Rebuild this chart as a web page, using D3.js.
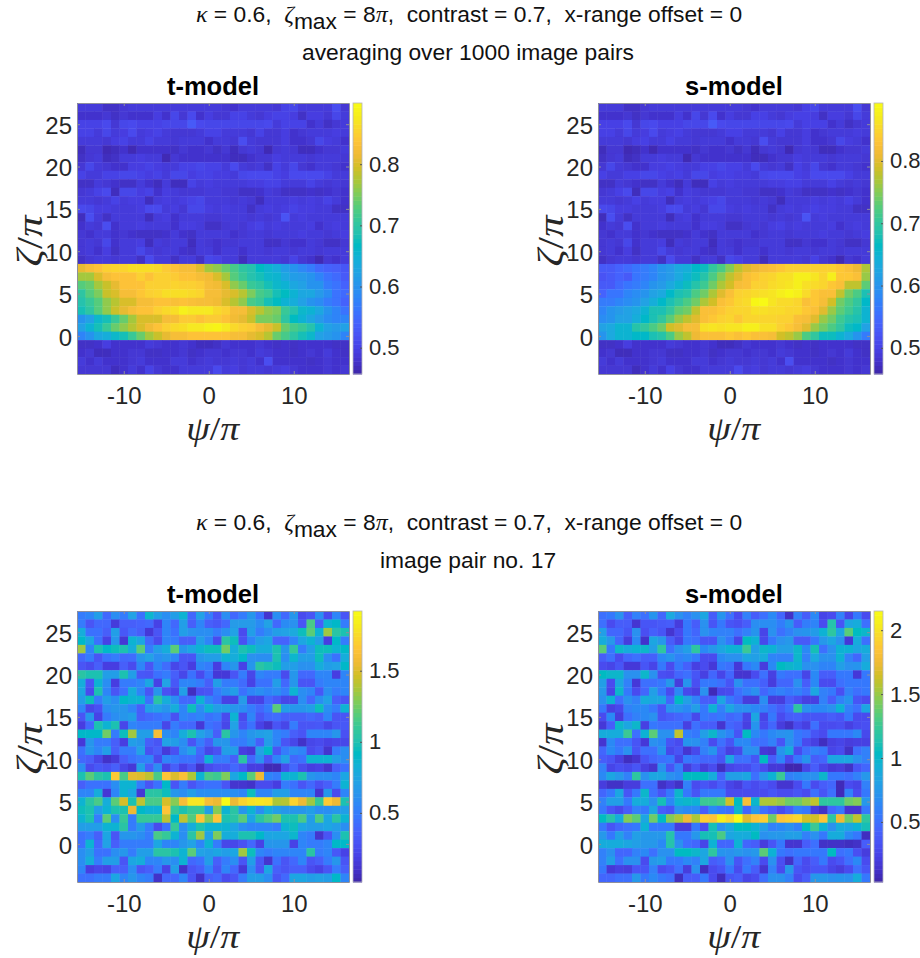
<!DOCTYPE html>
<html>
<head>
<meta charset="utf-8">
<script src="https://cdn.jsdelivr.net/npm/d3@7"></script>
<style>
  body { margin: 0; background: #fff; }
  text { font-family: "Liberation Sans", Arial, sans-serif; }
  .math { font-family: "Liberation Serif", serif; font-style: italic; }
</style>
</head>
<body>
<div id="chart"></div>
<script>
// Axis values
var xTicks = [-10, 0, 10];
var yTicks = [0, 5, 10, 15, 20, 25];
var xCenters = d3.range(-15, 17);
var yCenters = d3.range(27, -5, -1);

// Averaged panels: rows y = 27 ... 9 (same in both models)
var avgHigh = [
[.49,.49,.49,.475,.475,.485,.49,.49,.49,.49,.49,.49,.49,.49,.49,.49,.49,.485,.48,.49,.49,.49,.49,.485,.5,.505,.49,.49,.49,.49,.515,.485],
[.48,.48,.48,.485,.475,.485,.48,.48,.48,.495,.48,.505,.485,.51,.48,.495,.485,.485,.5,.5,.49,.485,.495,.5,.5,.495,.475,.495,.495,.485,.505,.49],
[.5,.5,.5,.51,.485,.505,.51,.5,.5,.5,.505,.505,.505,.53,.51,.505,.505,.505,.505,.505,.505,.505,.51,.49,.5,.5,.5,.48,.49,.475,.485,.49],
[.5,.5,.49,.505,.49,.495,.51,.49,.495,.5,.49,.485,.485,.485,.49,.5,.5,.49,.49,.49,.485,.5,.485,.485,.495,.48,.485,.49,.49,.49,.495,.49],
[.49,.49,.49,.485,.495,.5,.49,.49,.5,.49,.49,.485,.49,.49,.49,.48,.49,.49,.485,.515,.49,.485,.485,.485,.495,.48,.48,.485,.505,.495,.49,.48],
[.47,.485,.485,.465,.47,.48,.465,.48,.48,.48,.48,.475,.485,.48,.48,.485,.475,.485,.47,.485,.49,.485,.465,.485,.49,.485,.47,.47,.48,.485,.485,.49],
[.475,.485,.49,.47,.475,.49,.49,.495,.49,.49,.465,.485,.48,.48,.48,.48,.48,.48,.47,.47,.48,.485,.485,.495,.49,.49,.49,.485,.49,.49,.49,.485],
[.485,.505,.49,.485,.48,.48,.495,.495,.5,.495,.49,.49,.5,.5,.505,.5,.5,.49,.51,.49,.485,.49,.475,.5,.49,.505,.485,.48,.49,.49,.485,.48],
[.5,.49,.49,.5,.5,.505,.505,.5,.495,.5,.49,.505,.505,.495,.5,.5,.495,.495,.49,.505,.51,.51,.51,.5,.495,.51,.51,.51,.51,.5,.49,.49],
[.475,.475,.49,.485,.48,.475,.475,.49,.48,.47,.49,.47,.47,.5,.49,.495,.49,.49,.49,.49,.495,.495,.5,.5,.49,.49,.49,.5,.49,.485,.49,.485],
[.485,.49,.5,.51,.47,.505,.505,.495,.5,.48,.495,.49,.485,.485,.485,.49,.49,.485,.485,.475,.475,.48,.49,.485,.475,.475,.475,.48,.475,.48,.485,.48],
[.49,.49,.485,.49,.5,.49,.495,.495,.47,.49,.495,.49,.495,.5,.505,.49,.49,.49,.485,.49,.485,.47,.49,.49,.49,.495,.49,.495,.49,.5,.49,.48],
[.51,.505,.495,.495,.49,.49,.49,.495,.51,.51,.49,.495,.485,.505,.505,.495,.49,.495,.49,.49,.475,.49,.495,.49,.495,.5,.495,.495,.49,.49,.475,.475],
[.47,.515,.49,.475,.49,.49,.49,.49,.47,.49,.495,.48,.49,.49,.49,.485,.485,.49,.49,.49,.485,.49,.485,.49,.52,.49,.495,.49,.49,.49,.49,.49],
[.48,.49,.485,.515,.48,.49,.49,.495,.49,.49,.49,.48,.495,.495,.49,.475,.475,.485,.49,.485,.495,.5,.49,.495,.49,.49,.49,.495,.48,.49,.495,.49],
[.485,.48,.49,.49,.48,.485,.48,.475,.475,.475,.48,.49,.48,.475,.49,.49,.49,.49,.48,.485,.49,.49,.485,.49,.49,.49,.495,.49,.49,.485,.49,.495],
[.485,.49,.485,.505,.48,.49,.49,.495,.47,.49,.485,.49,.49,.47,.49,.485,.48,.485,.485,.49,.49,.49,.475,.475,.485,.48,.48,.49,.485,.475,.475,.485],
[.485,.49,.48,.495,.475,.49,.49,.505,.49,.485,.49,.49,.48,.475,.49,.49,.48,.49,.49,.48,.49,.49,.485,.49,.49,.485,.49,.49,.485,.49,.49,.49],
[.475,.485,.49,.49,.485,.49,.49,.475,.51,.49,.49,.475,.49,.49,.475,.505,.5,.49,.49,.47,.49,.49,.49,.49,.485,.5,.485,.48,.465,.485,.48,.49]
];
// Averaged panels: rows y = -1 ... -4 (same in both models)
var avgLow = [
[.475,.475,.48,.495,.48,.48,.48,.48,.49,.485,.48,.48,.485,.48,.47,.47,.475,.485,.48,.48,.48,.485,.48,.475,.48,.475,.48,.48,.48,.48,.475,.475],
[.48,.485,.47,.47,.48,.48,.485,.485,.475,.475,.48,.48,.485,.475,.48,.485,.485,.48,.485,.485,.48,.49,.485,.48,.48,.475,.48,.485,.48,.49,.48,.475],
[.49,.48,.49,.48,.48,.48,.485,.49,.48,.48,.48,.49,.49,.48,.485,.49,.485,.485,.49,.485,.49,.48,.515,.48,.48,.48,.48,.475,.48,.485,.48,.48],
[.485,.485,.485,.485,.47,.48,.49,.48,.5,.485,.48,.48,.49,.49,.49,.49,.51,.49,.495,.485,.49,.49,.485,.49,.495,.485,.48,.48,.48,.485,.48,.485]
];
// Averaged panels: rows y = 8 ... 0
var avgBandT = [
[.81,.825,.835,.85,.855,.855,.865,.865,.865,.86,.845,.835,.825,.825,.805,.77,.76,.74,.72,.70,.69,.67,.655,.64,.615,.60,.585,.57,.55,.54,.535,.525],
[.77,.77,.80,.825,.835,.835,.835,.85,.835,.85,.85,.845,.835,.835,.825,.82,.80,.77,.73,.71,.69,.68,.66,.655,.63,.615,.61,.60,.58,.56,.55,.53],
[.73,.74,.77,.79,.81,.835,.835,.835,.85,.85,.85,.855,.85,.85,.845,.825,.82,.80,.76,.74,.71,.70,.68,.66,.65,.63,.62,.60,.60,.57,.56,.54],
[.70,.73,.75,.79,.80,.825,.825,.84,.85,.855,.865,.865,.865,.86,.855,.825,.825,.81,.80,.78,.75,.72,.71,.68,.67,.65,.63,.63,.61,.59,.56,.55],
[.69,.71,.73,.76,.78,.80,.80,.825,.825,.835,.835,.83,.835,.83,.825,.825,.82,.80,.78,.76,.72,.71,.68,.67,.65,.64,.62,.60,.59,.57,.56,.54],
[.68,.70,.73,.76,.79,.81,.825,.835,.835,.85,.86,.865,.885,.875,.875,.875,.86,.85,.825,.825,.80,.78,.76,.75,.71,.69,.66,.65,.63,.60,.58,.56],
[.60,.62,.66,.68,.71,.74,.77,.80,.80,.80,.825,.825,.845,.845,.835,.845,.845,.835,.82,.81,.79,.75,.75,.74,.70,.67,.65,.63,.61,.59,.58,.58],
[.62,.65,.68,.71,.74,.76,.78,.80,.82,.835,.85,.86,.865,.875,.875,.885,.89,.875,.86,.85,.845,.825,.81,.79,.74,.72,.71,.69,.65,.62,.61,.62],
[.58,.60,.63,.64,.66,.68,.71,.74,.77,.79,.81,.825,.825,.835,.835,.835,.835,.835,.825,.825,.81,.80,.78,.74,.72,.70,.68,.66,.62,.61,.60,.58]
];
var avgBandS = [
[.53,.53,.54,.55,.56,.57,.58,.60,.61,.63,.64,.66,.67,.70,.72,.75,.78,.80,.81,.82,.825,.835,.845,.845,.845,.845,.845,.845,.835,.825,.81,.77],
[.52,.53,.54,.53,.56,.57,.58,.60,.61,.63,.65,.67,.69,.72,.75,.78,.80,.825,.835,.845,.85,.86,.86,.875,.875,.865,.85,.875,.835,.835,.825,.76],
[.53,.53,.55,.56,.57,.58,.60,.61,.63,.65,.67,.69,.71,.74,.77,.79,.82,.825,.845,.845,.855,.86,.865,.875,.86,.855,.85,.835,.825,.78,.78,.73],
[.54,.56,.56,.58,.59,.60,.62,.63,.66,.68,.69,.72,.74,.77,.80,.825,.845,.85,.855,.86,.865,.875,.885,.875,.855,.835,.825,.825,.78,.74,.72,.68],
[.57,.57,.58,.59,.60,.62,.64,.66,.68,.70,.72,.74,.77,.79,.825,.835,.85,.855,.885,.89,.865,.855,.855,.85,.825,.835,.82,.79,.74,.72,.70,.66],
[.58,.60,.61,.62,.63,.65,.68,.68,.70,.73,.74,.78,.825,.825,.835,.845,.85,.85,.86,.86,.855,.855,.85,.85,.835,.825,.80,.76,.73,.71,.69,.65],
[.59,.60,.62,.62,.64,.66,.68,.70,.73,.76,.78,.80,.825,.835,.845,.85,.835,.85,.85,.85,.85,.845,.845,.825,.82,.80,.76,.74,.71,.69,.68,.65],
[.62,.63,.65,.65,.69,.70,.72,.74,.79,.80,.82,.82,.86,.865,.86,.865,.865,.875,.875,.86,.86,.845,.835,.82,.80,.76,.74,.72,.70,.67,.66,.62],
[.60,.63,.65,.65,.66,.66,.68,.69,.72,.76,.78,.81,.825,.825,.825,.835,.825,.835,.825,.825,.82,.79,.78,.76,.72,.70,.67,.67,.65,.63,.60,.57]
];

// Single image pair: rows y = 27 ... 9 (same in both models)
var pairHigh = [
[.5,.55,.7,.4,.6,.5,.72,.45,.88,.7,.6,.7,.85,.4,.72,.5,.3,.6,.4,.5,.65,.45,.12,.6,.4,.65,.25,.3,.6,.25,.55,.3],
[.5,.3,.4,.4,.16,.35,.35,.38,.4,.2,.55,.4,.7,.35,.55,.35,.32,.4,.68,.68,.68,.58,.72,.4,.58,.62,.3,1.15,.35,.85,.9,.5],
[.8,.45,.45,.35,.7,.32,.42,.35,.15,.3,.55,.45,.7,.62,.6,.6,.5,.6,.72,.25,.7,.5,.6,.7,.72,.78,.95,1.2,.85,1.35,1.05,1.0],
[.9,.75,.45,.2,.65,.14,.85,.75,.4,.25,.55,.5,.35,.35,.7,.55,.25,1.05,.95,.28,.55,.7,.75,.38,.38,.55,.75,.85,.7,.18,.9,.5],
[1.35,.55,1.0,.9,.95,1.0,.8,1.2,.5,.7,.8,1.2,.65,.75,.85,.95,.95,1.25,.8,1.0,.95,.8,.8,1.0,.65,1.1,.5,.7,.95,.95,.85,.9],
[.4,.5,.3,.45,.5,.4,.42,.65,.72,.6,.65,.55,.3,.3,.65,.7,.7,.85,.8,.9,.62,.6,.6,1.0,.6,.88,.7,.7,.95,.6,.45,.8],
[.3,.25,.35,.18,.18,.35,.25,.55,.3,.55,.42,.22,.3,.18,.55,.5,.18,.55,.65,.2,.65,1.05,1.0,.95,.7,.7,.62,.62,.8,.7,.72,.9],
[1.05,1.0,1.0,.7,.7,1.0,.7,.32,.3,.45,.5,.35,.22,.45,.25,.45,.15,.15,.3,.5,.22,.55,.5,.5,.25,.65,.4,.4,.55,.55,.18,.55],
[.8,.3,.85,.6,.18,.5,.5,.55,.75,.2,.72,.32,.55,.55,.5,.35,.7,.5,.5,.42,.2,.45,.45,.7,.4,.65,.3,.3,.5,.55,.55,.55],
[.75,.25,1.0,.55,.3,.45,.8,.55,.3,.65,.28,.22,.7,.08,.28,.3,.5,.6,.7,.45,.55,.6,.55,.6,.5,.85,.6,.55,.32,.6,.5,.55],
[.7,.95,.5,.7,.6,.9,.85,.85,.45,1.05,.8,.6,.4,.4,.85,.55,.45,.2,.2,.68,.2,.2,.4,.32,.22,.22,.6,.4,.6,.72,.35,.3],
[.55,.22,.28,.6,.65,.65,.55,.35,.7,.72,.65,.8,.55,.95,.6,.85,.7,.7,.65,.6,.5,.4,.5,1.2,.7,.65,.65,.7,.95,.6,.5,.85],
[.3,.65,.2,.5,.6,.65,.7,.35,.4,.45,.5,.28,.55,.5,.55,.45,.5,.25,.85,.25,.55,.3,.4,.42,.35,.35,.35,.4,.35,.55,.3,.3],
[.18,.4,1.0,.85,1.0,.22,.55,.5,.5,.5,.22,.5,.4,.4,.15,.45,.4,.22,.72,.3,.45,.2,.12,.3,.22,.5,.3,.3,.32,.22,.3,.32],
[.9,.9,.9,1.25,.5,.95,1.35,.7,.7,1.6,.6,.55,.8,1.0,.72,.62,.35,1.05,.65,.55,.65,.7,.72,.55,.5,.35,.3,.55,.55,.55,.65,.28],
[.15,.65,.5,.5,.35,.18,.7,.65,.35,.3,.72,.7,.6,.3,.5,.35,.65,.65,.5,.5,.6,.35,.7,.55,.3,.22,.1,.22,.25,.2,.22,.22],
[.45,.65,.55,.7,.35,.5,.5,.72,.28,.35,.16,.28,.6,.72,.4,.22,.28,.7,.7,.18,.15,.72,.9,.3,.5,.6,.55,.25,.3,.12,.5,.6],
[.4,.35,.22,.1,.16,.35,.45,.5,.55,.25,.55,.5,.45,.45,.35,.85,.5,.5,.35,1.05,.4,.62,.3,.55,.72,.4,.45,.85,.85,.85,.7,.6],
[.6,.25,.32,.28,.35,.22,.15,.7,.35,.6,.2,.35,.2,.3,.1,.25,.3,.3,.4,.3,.18,.18,.05,.05,.25,.4,.25,.18,.2,.12,.35,.45]
];
// Single image pair: rows y = -1 ... -4 (same in both models)
var pairLow = [
[.6,.7,.45,.45,.6,.65,.5,.7,.7,1.05,1.05,1.0,.85,1.2,.72,.7,.75,.7,.75,1.35,.95,.55,.5,.55,.55,.55,.55,1.05,.5,.55,.32,.2],
[.6,.8,.5,.7,.7,.3,.75,.8,.55,.55,.65,.6,.85,.4,.45,.7,.35,.5,.6,.3,.7,.32,.12,.45,.3,.4,.55,.3,.35,.5,.65,.3],
[.55,.18,.22,.2,.35,.35,.6,.3,.35,.5,.2,.7,.1,.3,.35,.55,.3,.55,.4,.15,.6,.3,.75,.35,.3,.35,.35,.25,.2,.3,.5,.35],
[.45,.45,.5,.5,.75,.55,.65,.55,.5,.1,.4,.4,.55,.3,.1,.35,.4,.25,.3,.5,.7,.7,.6,.3,.4,.75,.75,.7,.72,.7,.9,.55]
];
// Single image pair: rows y = 8 ... 0
var pairBandT = [
[1.0,1.2,1.05,1.0,1.68,1.15,1.52,1.5,1.42,1.15,1.65,1.5,1.62,1.38,.85,1.15,1.12,1.28,.75,.9,1.2,1.55,.55,.5,.85,.85,1.0,.65,.6,.6,.55,.75],
[.35,.45,.45,.45,.6,.85,.85,.5,.3,.45,.9,.3,.5,.3,.4,.45,.45,.3,.12,.12,.1,.25,.25,.18,.5,.45,.3,.4,.28,.35,.5,.85],
[.55,.55,.8,.14,.55,.85,.75,.14,1.05,1.05,.95,.65,.6,.7,.6,.6,.6,.6,.6,.55,.95,.55,.55,.7,.7,.55,.55,.55,.12,.65,.25,.55],
[.85,1.05,1.15,.8,1.2,1.48,1.0,1.42,1.15,1.15,1.48,1.3,1.6,1.8,1.8,1.6,1.55,1.92,1.55,1.72,1.78,1.8,1.78,1.38,1.4,1.72,1.55,1.35,1.1,1.68,1.55,1.0],
[.95,1.0,.7,.85,1.0,1.0,1.55,.9,.85,.85,1.65,1.1,1.0,1.1,1.1,.7,1.3,.85,1.05,.65,.85,.6,.8,.7,.65,.65,.65,.7,.6,.6,.65,.7],
[.85,1.0,.5,1.2,.6,1.1,.5,1.1,1.1,1.1,1.42,.9,1.42,1.18,1.65,1.3,1.65,1.0,1.05,1.2,.75,1.05,1.15,1.25,1.0,1.0,1.15,.7,1.15,.75,1.05,.85],
[.7,.7,.7,.85,.85,1.05,.5,.7,.5,.25,.45,1.1,.6,.8,1.0,.85,.85,.85,.75,.6,.55,.55,.55,.5,.85,.95,.75,.7,.7,.75,.7,.6],
[.45,.5,.35,.75,.3,.65,.65,.6,.5,1.15,1.1,.85,.6,1.05,1.35,.72,1.28,.8,.8,1.0,1.0,.9,.75,.75,.75,.88,.55,.5,.12,.3,.6,1.0],
[.45,.85,.4,.72,.35,.5,.5,.5,.5,.75,.55,.55,.65,.72,.55,.85,.5,.22,.22,.28,.4,.2,.65,.65,.65,.2,.55,.5,.5,.55,.9,.9]
];
var pairBandS = [
[.65,.85,.75,.6,1.2,.7,.85,.85,.7,.65,1.05,1.05,1.05,.9,.45,.8,.8,.85,.5,.75,.95,1.25,.6,.65,.7,.7,1.0,.55,.55,.5,.6,.75],
[.2,.12,.12,.2,.2,.5,.5,.12,.2,.12,.6,.3,.35,.3,.4,.25,.2,.35,.3,.35,.3,.15,.15,.3,.55,.3,.4,.45,.08,.3,.25,.6],
[.45,.55,.85,.35,.55,1.0,.5,.35,.55,1.0,.55,.35,.55,.55,.55,.3,.3,.3,.3,.3,.35,.3,.3,.35,.3,.5,.35,.5,.08,.6,.3,.55],
[.6,.8,.8,.55,.9,.9,.7,1.1,.65,.95,1.0,.95,1.25,1.25,1.3,1.65,1.05,1.8,1.0,1.55,1.55,1.5,1.4,1.4,1.5,1.6,1.2,1.2,1.2,1.4,1.45,.75],
[.55,.35,.28,.4,.6,.55,.85,.4,.35,.7,.65,.65,.4,.65,.55,.5,1.0,.45,.75,.5,.4,.3,.4,.6,.55,.2,.12,.45,.55,.15,.15,.55],
[1.05,1.15,.9,1.45,1.35,.85,1.4,1.05,1.45,1.55,1.75,1.55,1.9,1.85,2.05,1.95,2.15,1.7,1.85,1.9,1.4,1.85,1.9,1.95,1.65,1.65,1.85,1.2,1.75,1.4,1.6,1.2],
[.55,.35,.45,.5,.55,.95,.55,.55,.55,.2,.2,.55,.3,1.1,.7,.85,1.05,1.05,.95,.8,.6,.65,.7,.6,1.05,1.25,.95,.7,.9,.85,.95,1.1],
[.75,.55,.8,.6,.8,.75,.75,.75,1.15,.55,.55,.75,1.1,1.1,1.3,.85,.9,.9,1.05,.7,.75,.75,.8,.8,.6,.7,.55,.9,.9,.65,.55,.1],
[.9,.9,.9,.85,.8,.75,.75,.65,1.15,.7,.5,.45,.25,.95,.45,.45,.95,.45,.4,.2,.35,.55,.15,.15,.4,.5,.12,.12,.12,.1,.12,.4]
];

// Colour bar limits and ticks
var avgTDomain = [0.457, 0.9], avgSDomain = [0.458, 0.893];
var pairTDomain = [0.014, 1.92], pairSDomain = [0.03, 2.15];
var avgBarTicks = [0.5, 0.6, 0.7, 0.8];
var pairTBarTicks = [0.5, 1, 1.5];
var pairSBarTicks = [0.5, 1, 1.5, 2];

// MATLAB parula, every third entry
var parula = ["#3e26a8","#4332cb","#4741e5","#4852f4","#4563fd","#3875fe","#2d87f7","#2796eb","#20a5e3","#12b1d6","#02bac3","#24c2ae","#37c897","#57cc7a","#80cc59","#abc739","#d1bf27","#efba36","#fec338","#fad72d","#f5ed1d","#f9fb15"];

var cellPlotW = 272, cellPlotH = 271;
var svg = d3.select("#chart").append("svg").attr("width", 920).attr("height", 958);

// The picture is a little soft, as a scaled bitmap
svg.append("defs").append("filter").attr("id", "soft")
    .attr("x", "-2%").attr("y", "-2%").attr("width", "104%").attr("height", "104%")
  .append("feGaussianBlur").attr("stdDeviation", 0.5);

function colorScale(domain) {
  var stops = parula.map(function(c, i) { return domain[0] + (domain[1] - domain[0]) * i / (parula.length - 1); });
  return d3.scaleLinear().domain(stops).range(parula);
}

function drawPanel(left, top, title, rows, domain, barTicks) {
  var x = d3.scaleLinear().domain([-15.5, 16.5]).range([0, cellPlotW]);
  var y = d3.scaleLinear().domain([-4.5, 27.5]).range([cellPlotH, 0]);
  var color = colorScale(domain);
  var g = svg.append("g").attr("transform", "translate(" + left + "," + top + ")");

  // Cells
  var clipId = "clip" + left + "_" + top;
  g.append("clipPath").attr("id", clipId).append("rect").attr("width", cellPlotW).attr("height", cellPlotH);
  var cells = g.append("g").attr("clip-path", "url(#" + clipId + ")").append("g").attr("filter", "url(#soft)");
  rows.forEach(function(row, r) {
    cells.selectAll("rect.r" + r)
      .data(row)
      .enter()
      .append("rect")
        .attr("class", "r" + r)
        .attr("x", function(d, i) { return x(xCenters[i] - 0.5); })
        .attr("y", y(yCenters[r] + 0.5))
        .attr("width", x(1) - x(0) + 0.4)
        .attr("height", y(0) - y(1) + 0.4)
        .attr("fill", function(d) { return color(d); });
  });

  // Box and ticks on all four sides
  var axes = [
    {a: d3.axisBottom(x).tickValues(xTicks).tickFormat(String).tickSizeInner(-3).tickPadding(13), at: [0, cellPlotH]},
    {a: d3.axisTop(x).tickValues(xTicks).tickFormat("").tickSizeInner(-3), at: [0, 0]},
    {a: d3.axisLeft(y).tickValues(yTicks).tickFormat(String).tickSizeInner(-3).tickPadding(5), at: [0, 0], shift: true},
    {a: d3.axisRight(y).tickValues(yTicks).tickFormat("").tickSizeInner(-3), at: [cellPlotW, 0]}
  ];
  axes.forEach(function(o) {
    var ag = g.append("g").attr("transform", "translate(" + o.at[0] + "," + o.at[1] + ")").call(o.a.tickSizeOuter(0));
    ag.selectAll("path,line").attr("stroke", "#8f8f9a").attr("stroke-width", 1);
    ag.selectAll("text").attr("fill", "#262626").style("font-size", "24px").style("font-family", "Liberation Sans");
    if (o.shift) ag.selectAll("text").attr("dy", "0.38em");
  });

  // Title
  g.append("text")
    .attr("x", cellPlotW / 2)
    .attr("y", -8)
    .attr("text-anchor", "middle")
    .attr("font-weight", "bold")
    .attr("font-size", 25.5)
    .attr("fill", "#000")
    .text(title);

  // Axis labels
  var xl = g.append("text")
    .attr("transform", "translate(" + (x(0) + 4) + "," + (cellPlotH + 66) + ") scale(1.15,1)")
    .attr("text-anchor", "middle")
    .attr("class", "math")
    .attr("font-size", 33)
    .attr("fill", "#262626");
  xl.append("tspan").text("ψ");
  xl.append("tspan").style("font-style", "normal").text("/");
  xl.append("tspan").text("π");

  var yl = g.append("text")
    .attr("transform", "translate(-35,138) rotate(-90) scale(1.3,1.08)")
    .attr("text-anchor", "middle")
    .attr("class", "math")
    .attr("font-size", 33)
    .attr("fill", "#262626");
  yl.append("tspan").text("ζ");
  yl.append("tspan").style("font-style", "normal").text("/");
  yl.append("tspan").text("π");

  // Colour bar
  var bar = g.append("g").attr("transform", "translate(" + (cellPlotW + 4) + ",0)");
  var yBar = d3.scaleLinear().domain(domain).range([cellPlotH, 0]);
  var barSteps = d3.range(64);
  bar.selectAll("rect")
    .data(barSteps)
    .enter()
    .append("rect")
      .attr("x", 0)
      .attr("y", function(d) { return yBar(domain[0] + (domain[1] - domain[0]) * (d + 1) / 64); })
      .attr("width", 9)
      .attr("height", cellPlotH / 64 + 0.5)
      .attr("fill", function(d) { return color(domain[0] + (domain[1] - domain[0]) * (d + 0.5) / 64); });
  bar.append("rect").attr("width", 9).attr("height", cellPlotH).attr("fill", "none").attr("stroke", "#b5b5bd").attr("stroke-width", 0.8);
  var barAxis = bar.append("g").attr("transform", "translate(9,0)")
    .call(d3.axisRight(yBar).tickValues(barTicks).tickFormat(d3.format("~g")).tickSizeInner(-2).tickSizeOuter(0).tickPadding(7));
  barAxis.select("path").remove();
  barAxis.selectAll("line").attr("stroke", "#555");
  barAxis.selectAll("text").attr("fill", "#262626").style("font-size", "22px").style("font-family", "Liberation Sans");
}

function drawHeading(baseline, second) {
  var t = svg.append("text").attr("x", 469).attr("y", baseline).attr("text-anchor", "middle").attr("font-size", 22.8).attr("fill", "#111").style("white-space", "pre");
  t.append("tspan").attr("class", "math").attr("font-size", 24).text("κ");
  t.append("tspan").text(" = 0.6,  ");
  t.append("tspan").attr("class", "math").attr("font-size", 24).text("ζ");
  t.append("tspan").attr("dy", 7).text("max");
  t.append("tspan").attr("dy", -7).text(" = 8");
  t.append("tspan").attr("class", "math").attr("font-size", 24).text("π");
  t.append("tspan").text(",  contrast = 0.7,  x-range offset = 0");
  svg.append("text").attr("x", 468).attr("y", baseline + 38).attr("text-anchor", "middle").attr("font-size", 22.8).attr("fill", "#111").text(second);
}

drawHeading(22, "averaging over 1000 image pairs");
drawHeading(530, "image pair no. 17");

drawPanel(77, 103, "t-model", avgHigh.concat(avgBandT, avgLow), avgTDomain, avgBarTicks);
drawPanel(598, 103, "s-model", avgHigh.concat(avgBandS, avgLow), avgSDomain, avgBarTicks);
drawPanel(77, 611, "t-model", pairHigh.concat(pairBandT, pairLow), pairTDomain, pairTBarTicks);
drawPanel(598, 611, "s-model", pairHigh.concat(pairBandS, pairLow), pairSDomain, pairSBarTicks);
</script>
</body>
</html>
